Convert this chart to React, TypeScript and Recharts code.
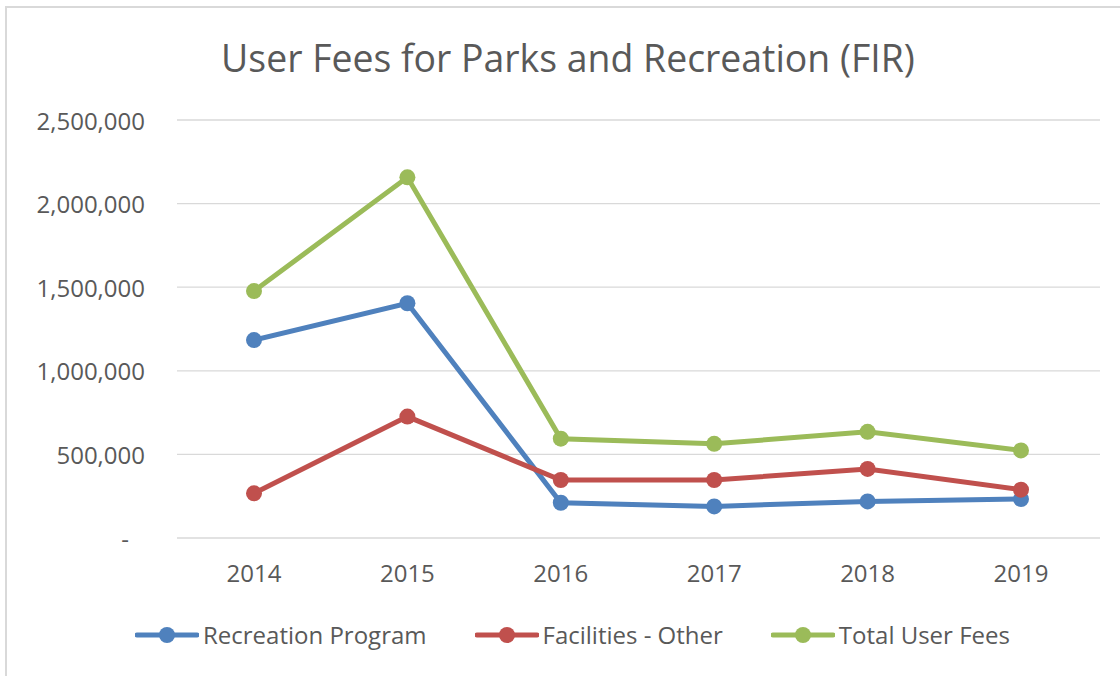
import React from "react";
import { LineChart, Line, XAxis, YAxis, CartesianGrid, Legend } from "recharts";

const years = ["2014", "2015", "2016", "2017", "2018", "2019"];
const recreationProgram = [1184000, 1404000, 211000, 189000, 219000, 233000];
const facilitiesOther = [267000, 726000, 347000, 347000, 413000, 289000];
const totalUserFees = [1477000, 2157000, 594000, 563000, 635000, 524000];
const yTicks = [0, 500000, 1000000, 1500000, 2000000, 2500000];

const seriesNames = ["Recreation Program", "Facilities - Other", "Total User Fees"];
const colors = ["#4F81BD", "#C0504D", "#9BBB59"];

const data = years.map((y, i) => ({
  year: y,
  rec: recreationProgram[i],
  fac: facilitiesOther[i],
  tot: totalUserFees[i],
}));

const FONT = "'Open Sans', 'Noto Sans', sans-serif";
const TEXT = "#595959";

const YTick = (props: any) => {
  const { x, y, payload } = props;
  const v = payload.value as number;
  const label = v === 0 ? "-" : v.toLocaleString("en-US");
  return (
    <text
      x={v === 0 ? x - 16 : x}
      y={y}
      textAnchor="end"
      dominantBaseline="central"
      fill={TEXT}
      fontSize={24}
      fontFamily={FONT}
    >
      {label}
    </text>
  );
};

const XTick = (props: any) => {
  const { x, y, payload } = props;
  return (
    <text
      x={x}
      y={y + 26}
      textAnchor="middle"
      dominantBaseline="central"
      fill={TEXT}
      fontSize={24}
      fontFamily={FONT}
    >
      {payload.value}
    </text>
  );
};

const LegendContent = () => (
  <div style={{ display: "flex", alignItems: "center", gap: 48, fontFamily: FONT, fontSize: 24, color: TEXT }}>
    {seriesNames.map((n, i) => (
      <div key={n} style={{ display: "flex", alignItems: "center" }}>
        <svg width={64} height={20} style={{ display: "block" }}>
          <line x1={2} y1={10} x2={62} y2={10} stroke={colors[i]} strokeWidth={5} strokeLinecap="round" />
          <circle cx={32} cy={10} r={8} fill={colors[i]} />
        </svg>
        <span style={{ marginLeft: 4, whiteSpace: "nowrap" }}>{n}</span>
      </div>
    ))}
  </div>
);

export default function App() {
  return (
    <div style={{ position: "absolute", left: 0, top: 0, width: 1120, height: 676, overflow: "hidden", background: "#fff" }}>
      <div
        style={{
          position: "absolute",
          left: 5,
          top: 6,
          width: 1300,
          height: 900,
          border: "2px solid #D9D9D9",
          boxSizing: "border-box",
        }}
      />
      <div
        style={{
          position: "absolute",
          left: 0,
          top: 32,
          width: 1136,
          textAlign: "center",
          fontFamily: FONT,
          fontSize: 37.4,
          color: TEXT,
          lineHeight: "52px",
          whiteSpace: "nowrap",
        }}
      >
        User Fees for Parks and Recreation (FIR)
      </div>
      <div style={{ position: "absolute", left: 0, top: 0 }}>
        <LineChart width={1120} height={676} data={data} margin={{ top: 120, right: 20, bottom: 98, left: 0 }}>
          <CartesianGrid horizontal vertical={false} stroke="#D9D9D9" strokeWidth={1.3} />
          <XAxis
            dataKey="year"
            axisLine={false}
            tickLine={false}
            height={40}
            padding={{ left: 77, right: 79 }}
            tick={<XTick />}
            interval={0}
          />
          <YAxis
            width={177}
            domain={[0, 2500000]}
            ticks={yTicks}
            axisLine={false}
            tickLine={false}
            tickSize={0}
            tickMargin={32}
            tick={<YTick />}
            interval={0}
          />
          <Legend
            layout="horizontal"
            verticalAlign="middle"
            align="center"
            content={<LegendContent />}
            wrapperStyle={{ position: "absolute", top: 618, left: 135, width: "auto" }}
          />
          <Line dataKey="rec" name={seriesNames[0]} stroke={colors[0]} strokeWidth={5} dot={{ r: 8, fill: colors[0], stroke: "none" }} activeDot={false} isAnimationActive={false} />
          <Line dataKey="fac" name={seriesNames[1]} stroke={colors[1]} strokeWidth={5} dot={{ r: 8, fill: colors[1], stroke: "none" }} activeDot={false} isAnimationActive={false} />
          <Line dataKey="tot" name={seriesNames[2]} stroke={colors[2]} strokeWidth={5} dot={{ r: 8, fill: colors[2], stroke: "none" }} activeDot={false} isAnimationActive={false} />
        </LineChart>
      </div>
    </div>
  );
}
